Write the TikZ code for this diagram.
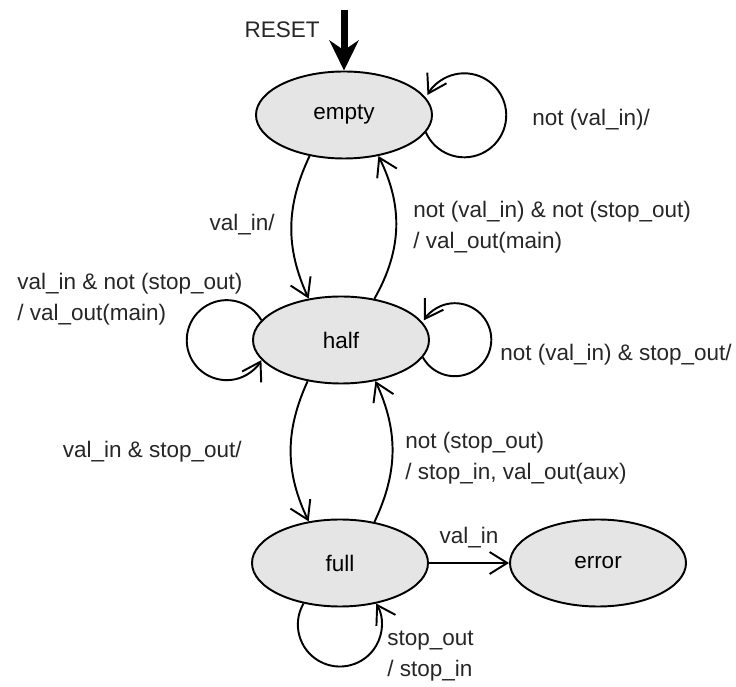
\documentclass[tikz,border=0pt]{standalone}
\usepackage{fontspec}
\setmainfont{Liberation Sans}
\usetikzlibrary{shapes.geometric,arrows.meta,positioning}

\begin{document}
\begin{tikzpicture}[
    st/.style={ellipse, draw=black, fill=gray!20, line width=1.1pt, minimum width=3.52cm, minimum height=1.74cm, inner sep=0pt, font=\fontsize{12.8}{17.6}\selectfont},
    lbl/.style={font=\fontsize{12.8}{17.6}\selectfont, text=black!85, align=left, inner sep=0pt},
    trans/.style={-{Straight Barb[length=10pt, width=12.5pt]}, line width=1.1pt},
    resetarrow/.style={-{Stealth[length=0.6cm, width=0.58cm]}, line width=0.14cm}
]
\useasboundingbox (0,0) rectangle (14.72,13.74);

% States
\node[st] (empty) at (6.88, 11.44) {empty};
\node[st] (half)  at (6.82, 6.94) {half};
\node[st] (full)  at (6.80, 2.48) {full};
\node[st] (error) at (11.96, 2.48) {error};

% Reset
\coordinate (rst) at (6.88, 13.54);
\node[lbl, anchor=east] (rstlbl) at (6.40, 13.14) {RESET};
\draw[resetarrow] (rst) -- (empty.north);

% Self loops
\draw[trans] (empty.-12) arc[start angle=204, delta angle=307, radius=0.84cm];
\draw[trans] (half.-12.5) arc[start angle=209, delta angle=299, radius=0.73cm];
\draw[trans] (half.166.5) arc[start angle=30, delta angle=300, radius=0.8cm];
\draw[trans] (full.-132) arc[start angle=150, delta angle=240, radius=0.84cm];

% Transitions between states
\draw[trans] (empty.230) to[bend right=25] (half.128);
\draw[trans] (half.51) to[bend right=28] (empty.-50);
\draw[trans] (half.231) to[bend right=25] (full.127);
\draw[trans] (full.50) to[bend right=25] (half.-50);
\draw[trans] (full.east) -- node[lbl, above=0.28cm] (lerr) {val\_in} (error.west);

% Transition labels
\node[lbl, anchor=west] (lempty) at (10.64, 11.34) {not (val\_in)/};
\node[lbl, anchor=east] (leh) at (5.50, 9.24) {val\_in/};
\node[lbl, anchor=west] (lhe) at (8.26, 9.20) {not (val\_in) \& not (stop\_out)\\/ val\_out(main)};
\node[lbl, anchor=west] (lhalfl) at (0.34, 7.76) {val\_in \& not (stop\_out)\\/ val\_out(main)};
\node[lbl, anchor=west] (lhalfr) at (10.00, 6.64) {not (val\_in) \& stop\_out/};
\node[lbl, anchor=east] (lhf) at (4.84, 4.70) {val\_in \& stop\_out/};
\node[lbl, anchor=west] (lfh) at (8.10, 4.58) {not (stop\_out)\\/ stop\_in, val\_out(aux)};
\node[lbl, anchor=west] (lfull) at (7.74, 0.62) {stop\_out\\/ stop\_in};

\end{tikzpicture}
\end{document}
